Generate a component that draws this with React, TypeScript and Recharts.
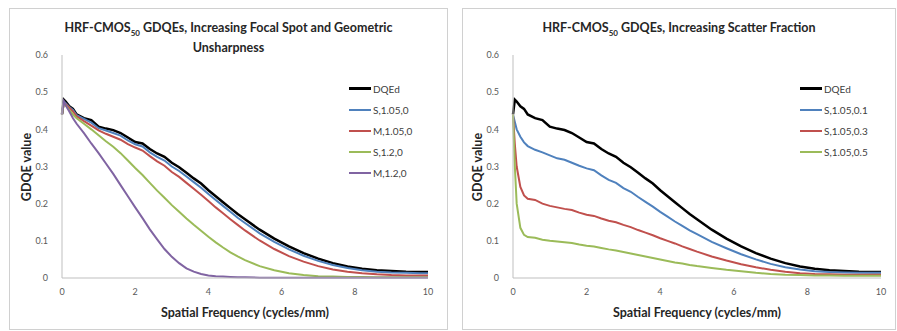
import { LineChart, Line, XAxis, YAxis } from "recharts";

// spatial frequency samples (cycles/mm)
const FREQ = [
  0, 0.05, 0.1, 0.2, 0.3, 0.4, 0.6, 0.8, 1.0, 1.2, 1.4, 1.6, 1.8, 2.0, 2.2, 2.4, 2.6, 2.8, 3.0, 3.2, 3.4,
  3.6, 3.8, 4.0, 4.2, 4.4, 4.6, 4.8, 5.0, 5.4, 5.8, 6.2, 6.6, 7.0, 7.4, 7.8, 8.2, 8.6, 9.0, 9.4, 9.8, 10.0,
];

const DQED = [
  0.44, 0.48, 0.475, 0.462, 0.455, 0.44, 0.43, 0.425, 0.407, 0.402, 0.398, 0.39, 0.378, 0.366, 0.362, 0.347,
  0.335, 0.326, 0.31, 0.298, 0.283, 0.268, 0.254, 0.236, 0.22, 0.204, 0.188, 0.172, 0.158, 0.13, 0.106, 0.085,
  0.067, 0.052, 0.04, 0.031, 0.025, 0.021, 0.019, 0.017, 0.016, 0.016,
];

// focal spot / geometric unsharpness
const S_105_0 = [
  0.44, 0.475, 0.47, 0.46, 0.452, 0.438, 0.428, 0.418, 0.403, 0.397, 0.39, 0.383, 0.37, 0.36, 0.354, 0.338,
  0.326, 0.316, 0.3, 0.288, 0.273, 0.258, 0.243, 0.226, 0.21, 0.194, 0.178, 0.162, 0.148, 0.12, 0.097, 0.077,
  0.06, 0.046, 0.035, 0.027, 0.021, 0.017, 0.015, 0.014, 0.013, 0.013,
];
const M_105_0 = [
  0.44, 0.47, 0.468, 0.458, 0.448, 0.435, 0.422, 0.41, 0.397, 0.388, 0.38, 0.372, 0.36, 0.351, 0.343, 0.328,
  0.314, 0.302, 0.285, 0.272, 0.256, 0.24, 0.224, 0.207, 0.19, 0.174, 0.158, 0.143, 0.128, 0.101, 0.078, 0.059,
  0.044, 0.032, 0.023, 0.017, 0.013, 0.01, 0.008, 0.007, 0.007, 0.007,
];
const S_12_0 = [
  0.44, 0.47, 0.465, 0.452, 0.44, 0.43, 0.415, 0.4, 0.384, 0.368, 0.353, 0.336, 0.316, 0.296, 0.277, 0.256,
  0.235, 0.216, 0.196, 0.178, 0.16, 0.143, 0.127, 0.111, 0.096, 0.082, 0.069, 0.058, 0.048, 0.032, 0.021, 0.013,
  0.008, 0.005, 0.004, 0.003, 0.003, 0.002, 0.002, 0.002, 0.002, 0.002,
];
const M_12_0 = [
  0.44, 0.475, 0.465, 0.448, 0.43, 0.415, 0.39, 0.362, 0.336, 0.308, 0.28, 0.25, 0.22, 0.19, 0.161, 0.131,
  0.104, 0.078, 0.057, 0.04, 0.026, 0.017, 0.011, 0.007, 0.005, 0.004, 0.003, 0.002, 0.002, 0.001, 0.001, 0.001,
  0.001, 0.001, 0.001, 0.001, 0.001, 0.001, 0.001, 0.001, 0.001, 0.001,
];

// scatter fraction
const S_105_01 = [
  0.44, 0.42, 0.4, 0.38, 0.365, 0.355, 0.345, 0.338, 0.33, 0.322, 0.318, 0.31, 0.302, 0.295, 0.29, 0.276,
  0.264, 0.256, 0.242, 0.232, 0.218, 0.205, 0.192, 0.178, 0.165, 0.152, 0.14, 0.128, 0.118, 0.097, 0.08, 0.064,
  0.05, 0.038, 0.029, 0.023, 0.018, 0.016, 0.015, 0.014, 0.014, 0.014,
];
const S_105_03 = [
  0.44, 0.36, 0.3, 0.245, 0.222, 0.213, 0.21, 0.2, 0.194, 0.19, 0.186, 0.183, 0.176, 0.17, 0.167, 0.16,
  0.154, 0.15, 0.143, 0.137, 0.129, 0.122, 0.115, 0.107, 0.1, 0.093, 0.085, 0.078, 0.071, 0.058, 0.047, 0.037,
  0.029, 0.022, 0.017, 0.013, 0.011, 0.01, 0.009, 0.009, 0.009, 0.009,
];
const S_105_05 = [
  0.44, 0.3, 0.2, 0.135, 0.116, 0.11, 0.108, 0.103, 0.1, 0.098, 0.096, 0.094, 0.09, 0.087, 0.085, 0.081,
  0.077, 0.074, 0.07, 0.066, 0.062, 0.058, 0.054, 0.05, 0.046, 0.042, 0.039, 0.035, 0.032, 0.027, 0.022, 0.018,
  0.014, 0.011, 0.009, 0.008, 0.007, 0.007, 0.006, 0.006, 0.006, 0.006,
];

const X_TICKS = [0, 2, 4, 6, 8, 10];
const Y_TICKS = [0, 0.1, 0.2, 0.3, 0.4, 0.5, 0.6];

type Series = { key: string; name: string; color: string; values: number[] };

const FOCAL: Series[] = [
  { key: "dqed", name: "DQEd", color: "#000000", values: DQED },
  { key: "s105", name: "S,1.05,0", color: "#4f81bd", values: S_105_0 },
  { key: "m105", name: "M,1.05,0", color: "#c0504d", values: M_105_0 },
  { key: "s12", name: "S,1.2,0", color: "#9bbb59", values: S_12_0 },
  { key: "m12", name: "M,1.2,0", color: "#8064a2", values: M_12_0 },
];

const SCATTER: Series[] = [
  { key: "dqed", name: "DQEd", color: "#000000", values: DQED },
  { key: "sf1", name: "S,1.05,0.1", color: "#4f81bd", values: S_105_01 },
  { key: "sf3", name: "S,1.05,0.3", color: "#c0504d", values: S_105_03 },
  { key: "sf5", name: "S,1.05,0.5", color: "#9bbb59", values: S_105_05 },
];

const FONT = "Lato, 'Liberation Sans', sans-serif";
const tickStyle = { fontSize: 9, fill: "#595959", fontFamily: FONT };

function rows(series: Series[]) {
  return FREQ.map((f, i) => {
    const r: Record<string, number> = { f };
    series.forEach((s) => (r[s.key] = s.values[i]));
    return r;
  });
}

// legend sits in the plot's upper right, drawn outside recharts so it doesn't shift the plot
const LegendBox = ({ series, left }: { series: Series[]; left: number }) => (
  <div
    style={{
      position: "absolute", left, top: 69, fontFamily: FONT, fontSize: 10, color: "#404040",
    }}
  >
    {series.map((s) => (
      <div key={s.key} style={{ display: "flex", alignItems: "center", height: 21, whiteSpace: "nowrap" }}>
        <span
          style={{
            display: "inline-block",
            width: 22,
            height: s.key === "dqed" ? 3 : 2,
            background: s.color,
            marginRight: 2,
          }}
        />
        {s.name}
      </div>
    ))}
  </div>
);

function Panel({
  left, width, series, title, legendX, plotLeft, right, yTitleX,
}: {
  left: number; width: number; series: Series[]; title: React.ReactNode;
  legendX: number; plotLeft: number; right: number; yTitleX: number;
}) {
  const chartW = width - 2;
  const chartH = 320;
  return (
    <div
      style={{
        position: "absolute", left, top: 8, width, height: 322, boxSizing: "border-box",
        border: "1px solid #d0d0d0", background: "#fff",
      }}
    >
      <div
        style={{
          position: "absolute", left: 0, width: chartW, top: 9, textAlign: "center",
          fontFamily: FONT, fontWeight: 700, fontSize: 12.5, lineHeight: "20px", color: "#262626",
        }}
      >
        {title}
      </div>
      <LineChart
        width={chartW}
        height={chartH}
        data={rows(series)}
        margin={{ top: 46, right, bottom: 21, left: plotLeft - 40 }}
      >
        <XAxis
          dataKey="f"
          type="number"
          domain={[0, 10]}
          ticks={X_TICKS}
          height={30}
          tickLine={false}
          tickSize={6}
          tickMargin={5}
          tick={tickStyle}
          axisLine={{ stroke: "#bfbfbf" }}
        />
        <YAxis
          type="number"
          domain={[0, 0.6]}
          ticks={Y_TICKS}
          width={40}
          tickLine={false}
          tickSize={6}
          tickMargin={8}
          tick={tickStyle}
          axisLine={{ stroke: "#bfbfbf" }}
        />
        {series.map((s) => (
          <Line
            key={s.key}
            type="linear"
            dataKey={s.key}
            name={s.name}
            stroke={s.color}
            strokeWidth={s.key === "dqed" ? 2.5 : 2}
            dot={false}
            isAnimationActive={false}
          />
        ))}
      </LineChart>
      <LegendBox series={series} left={legendX} />
      <div
        style={{
          position: "absolute", left: plotLeft, width: chartW - plotLeft - right, top: 296,
          textAlign: "center", fontFamily: FONT, fontWeight: 700, fontSize: 12.5, color: "#262626",
        }}
      >
        Spatial Frequency (cycles/mm)
      </div>
      <div
        style={{
          position: "absolute", left: yTitleX - 60, top: 158 - 9, width: 120, height: 18,
          textAlign: "center", transform: "rotate(-90deg)", fontFamily: FONT, fontWeight: 700,
          fontSize: 12.5, lineHeight: "18px", color: "#262626",
        }}
      >
        GDQE value
      </div>
    </div>
  );
}

const sub = (t: string) => (
  <span style={{ fontSize: 8, verticalAlign: "sub", lineHeight: 0 }}>{t}</span>
);

export default function App() {
  return (
    <div style={{ position: "absolute", left: 0, top: 0, width: 897, height: 331, background: "#fff" }}>
      <Panel
        left={9}
        width={439}
        series={FOCAL}
        title={
          <>
            HRF-CMOS{sub("50")} GDQEs, Increasing Focal Spot and Geometric
            <br />
            Unsharpness
          </>
        }
        legendX={339}
        plotLeft={52}
        right={19}
        yTitleX={17}
      />
      <Panel
        left={462}
        width={434}
        series={SCATTER}
        title={<>HRF-CMOS{sub("50")} GDQEs, Increasing Scatter Fraction</>}
        legendX={337}
        plotLeft={50}
        right={14}
        yTitleX={15}
      />
    </div>
  );
}
